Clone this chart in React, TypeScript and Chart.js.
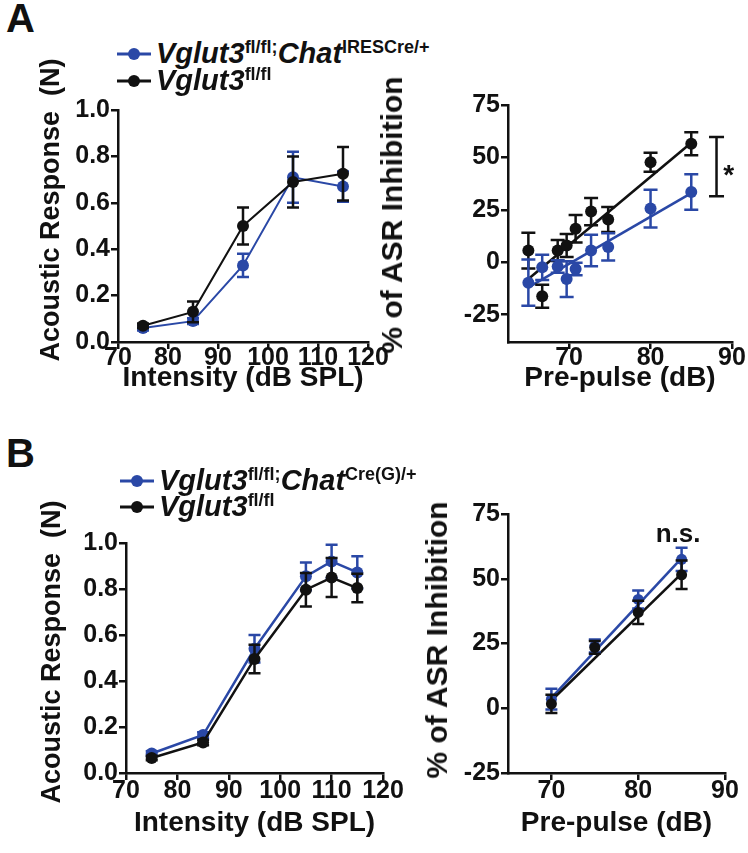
import React, { useEffect, useRef } from "react";
import { Chart, registerables } from "chart.js";

Chart.register(...registerables);

const FONT = "'Liberation Sans', Arial, Helvetica, sans-serif";
const BLUE = "#2a48a6";
const BLACK = "#111111";

// ---------- Panel A, left: acoustic response ----------
const aIntensity = [75, 85, 95, 105, 115];
const aCreResponse = [0.06, 0.09, 0.33, 0.71, 0.67];
const aCreResponseErr = [0.01, 0.012, 0.05, 0.11, 0.065];
const aCtrlResponse = [0.07, 0.13, 0.5, 0.69, 0.725];
const aCtrlResponseErr = [0.01, 0.045, 0.08, 0.11, 0.115];

// ---------- Panel A, right: % ASR inhibition ----------
const aPrepulse = [65, 66.7, 68.6, 69.7, 70.8, 72.7, 74.8, 80, 85];
const aCtrlInhib = [5.6, -16.2, 5.6, 8, 16, 24.2, 20.4, 47.7, 56.5];
const aCtrlInhibErr = [8.5, 5.5, 5, 5.5, 6.5, 6.5, 6, 4.5, 5.5];
const aCreInhib = [-9.7, -2.4, -2, -8, -3.2, 5.6, 7.3, 25.6, 33.5];
const aCreInhibErr = [11, 6, 3, 8.5, 3, 7.5, 6.5, 9, 8.5];
const aFitX = [65, 85];
const aCtrlFit = [-8, 57];
const aCreFit = [-12, 33];

// ---------- Panel B, left ----------
const bIntensity = [75, 85, 95, 105, 110, 115];
const bCreResponse = [0.085, 0.165, 0.54, 0.855, 0.92, 0.872];
const bCreResponseErr = [0.01, 0.012, 0.06, 0.06, 0.072, 0.07];
const bCtrlResponse = [0.065, 0.133, 0.496, 0.797, 0.85, 0.804];
const bCtrlResponseErr = [0.01, 0.012, 0.062, 0.073, 0.085, 0.062];

// ---------- Panel B, right ----------
const bPrepulse = [70, 75, 80, 85];
const bCreInhib = [3.5, 24, 42, 57.5];
const bCreInhibErr = [4, 2.5, 3.5, 4.5];
const bCtrlInhib = [1.7, 23.5, 37, 51.5];
const bCtrlInhibErr = [3.5, 2.5, 4.5, 5.5];
const bFitX = [70, 85];
const bCtrlFit = [3, 52];
const bCreFit = [4, 58];

// ---------- ticks ----------
const intensityTicks = [70, 80, 90, 100, 110, 120];
const responseTicks = [0, 0.2, 0.4, 0.6, 0.8, 1.0];
const prepulseTicks = [70, 80, 90];
const inhibTicks = [-25, 0, 25, 50, 75];

const pts = (xs: number[], ys: number[]) => xs.map((x, i) => ({ x, y: ys[i] }));

const errorBarPlugin = {
  id: "errorBars",
  beforeDatasetDraw(chart: any, args: any) {
    const ds = chart.data.datasets[args.index];
    const errs: number[] | undefined = ds.errors;
    if (!errs) return;
    const ys = chart.scales.y;
    const ctx = chart.ctx;
    const cap = ds.capHalf ?? 6;
    ctx.save();
    ctx.strokeStyle = ds.borderColor;
    ctx.lineWidth = 2.5;
    args.meta.data.forEach((el: any, j: number) => {
      const v = ds.data[j].y;
      const e = errs[j];
      const yt = ys.getPixelForValue(v + e);
      const yb = ys.getPixelForValue(v - e);
      const x = el.x;
      ctx.beginPath();
      ctx.moveTo(x, yt);
      ctx.lineTo(x, yb);
      ctx.moveTo(x - cap, yt);
      ctx.lineTo(x + cap, yt);
      ctx.moveTo(x - cap, yb);
      ctx.lineTo(x + cap, yb);
      ctx.stroke();
    });
    ctx.restore();
  },
};

const notesPlugin = {
  id: "notes",
  afterDatasetsDraw(chart: any, _args: any, opts: any) {
    const ctx = chart.ctx;
    const xs = chart.scales.x;
    const ys = chart.scales.y;
    ctx.save();
    (opts.brackets || []).forEach((b: any) => {
      const x = xs.getPixelForValue(b.x);
      const y1 = ys.getPixelForValue(b.y1);
      const y2 = ys.getPixelForValue(b.y2);
      ctx.strokeStyle = BLACK;
      ctx.lineWidth = 2.5;
      ctx.beginPath();
      ctx.moveTo(x, y1);
      ctx.lineTo(x, y2);
      ctx.moveTo(x - b.cap, y1);
      ctx.lineTo(x + b.cap, y1);
      ctx.moveTo(x - b.cap, y2);
      ctx.lineTo(x + b.cap, y2);
      ctx.stroke();
    });
    (opts.labels || []).forEach((l: any) => {
      ctx.fillStyle = BLACK;
      ctx.font = `bold ${l.size}px ${FONT}`;
      ctx.textAlign = "center";
      ctx.textBaseline = "alphabetic";
      ctx.fillText(l.text, xs.getPixelForValue(l.x), ys.getPixelForValue(l.y));
    });
    ctx.restore();
  },
};

function lineSet(data: any[], color: string, opts: any = {}) {
  return {
    data,
    borderColor: color,
    backgroundColor: color,
    pointBackgroundColor: color,
    pointBorderWidth: 0,
    pointRadius: 6,
    borderWidth: 2,
    tension: 0,
    showLine: true,
    ...opts,
  };
}

function axis(o: any) {
  const isY = o.position === "left";
  return {
    type: "linear",
    position: o.position,
    min: o.min,
    max: o.max,
    afterBuildTicks: (s: any) => {
      s.ticks = o.ticks.map((v: number) => ({ value: v }));
    },
    afterFit: (s: any) => {
      if (isY) s.width = o.size;
      else s.height = o.size;
    },
    ticks: {
      font: { family: FONT, size: 25, weight: "bold" },
      color: BLACK,
      padding: o.tickPad ?? 1,
      autoSkip: false,
      maxRotation: 0,
      minRotation: 0,
      callback: o.fmt || ((v: number) => String(v)),
    },
    grid: {
      display: true,
      drawOnChartArea: false,
      drawTicks: true,
      tickLength: 7,
      lineWidth: 2.5,
      color: BLACK,
      tickColor: BLACK,
    },
    border: { display: true, color: BLACK, width: 2.5 },
    title: isY
      ? { display: false }
      : {
          display: true,
          text: o.title,
          color: BLACK,
          font: { family: FONT, size: 28, weight: "bold" },
          padding: { top: 0, bottom: 2 },
        },
  };
}

function config(o: any) {
  return {
    type: "line",
    data: { datasets: o.datasets },
    options: {
      animation: false,
      responsive: false,
      layout: { padding: { left: 0, top: o.padTop, right: o.padRight, bottom: 0 } },
      plugins: {
        legend: { display: false },
        tooltip: { enabled: false },
        notes: o.notes || {},
      },
      scales: {
        x: axis({ position: "bottom", ...o.x }),
        y: axis({ position: "left", ...o.y }),
      },
    },
    plugins: [errorBarPlugin, notesPlugin],
  };
}

const fmt1 = (v: number) => v.toFixed(1);

const panels = [
  {
    key: "aLeft",
    left: 0,
    top: 86,
    width: 392,
    height: 311,
    cfg: config({
      padTop: 24,
      padRight: 24,
      datasets: [
        lineSet(pts(aIntensity, aCtrlResponse), BLACK, { errors: aCtrlResponseErr, order: 0 }),
        lineSet(pts(aIntensity, aCreResponse), BLUE, { errors: aCreResponseErr, order: 1 }),
      ],
      x: { min: 70, max: 120, ticks: intensityTicks, size: 55, tickPad: -6, title: "Intensity (dB SPL)" },
      y: { min: 0, max: 1, ticks: responseTicks, size: 118, fmt: fmt1 },
    }),
  },
  {
    key: "aRight",
    left: 373,
    top: 81,
    width: 375,
    height: 316,
    cfg: config({
      padTop: 24,
      padRight: 16,
      datasets: [
        lineSet(pts(aPrepulse, aCtrlInhib), BLACK, { errors: aCtrlInhibErr, showLine: false, capHalf: 7, order: 1 }),
        lineSet(pts(aPrepulse, aCreInhib), BLUE, { errors: aCreInhibErr, showLine: false, capHalf: 7, order: 0 }),
        lineSet(pts(aFitX, aCtrlFit), BLACK, { pointRadius: 0, borderWidth: 2.6, order: 3 }),
        lineSet(pts(aFitX, aCreFit), BLUE, { pointRadius: 0, borderWidth: 2.6, order: 2 }),
      ],
      x: { min: 62.5, max: 90, ticks: prepulseTicks, size: 55, tickPad: -6, title: "Pre-pulse (dB)" },
      y: { min: -38, max: 75, ticks: inhibTicks, size: 135 },
      notes: {
        brackets: [{ x: 88.1, y1: 31.5, y2: 59.8, cap: 7.5 }],
        labels: [{ x: 89.6, y: 37.5, text: "*", size: 28 }],
      },
    }),
  },
  {
    key: "bLeft",
    left: 0,
    top: 519,
    width: 407,
    height: 323,
    cfg: config({
      padTop: 24,
      padRight: 24,
      datasets: [
        lineSet(pts(bIntensity, bCtrlResponse), BLACK, { errors: bCtrlResponseErr, borderWidth: 2.5, order: 0 }),
        lineSet(pts(bIntensity, bCreResponse), BLUE, { errors: bCreResponseErr, borderWidth: 2.5, order: 1 }),
      ],
      x: { min: 70, max: 120, ticks: intensityTicks, size: 69, tickPad: -4, title: "Intensity (dB SPL)" },
      y: { min: 0, max: 1, ticks: responseTicks, size: 126, fmt: fmt1 },
    }),
  },
  {
    key: "bRight",
    left: 373,
    top: 490,
    width: 375,
    height: 352,
    cfg: config({
      padTop: 24,
      padRight: 23,
      datasets: [
        lineSet(pts(bPrepulse, bCtrlInhib), BLACK, { errors: bCtrlInhibErr, showLine: false, pointRadius: 5.5, order: 0 }),
        lineSet(pts(bPrepulse, bCreInhib), BLUE, { errors: bCreInhibErr, showLine: false, pointRadius: 5.5, order: 1 }),
        lineSet(pts(bFitX, bCtrlFit), BLACK, { pointRadius: 0, borderWidth: 2.6, order: 2 }),
        lineSet(pts(bFitX, bCreFit), BLUE, { pointRadius: 0, borderWidth: 2.6, order: 3 }),
      ],
      x: { min: 65, max: 90, ticks: prepulseTicks, size: 69, tickPad: -4, title: "Pre-pulse (dB)" },
      y: { min: -25, max: 75, ticks: inhibTicks, size: 135 },
      notes: {
        labels: [{ x: 84.6, y: 64.3, text: "n.s.", size: 26 }],
      },
    }),
  },
];

// rotated y-axis titles: [text, centre x, centre y, font size]
const yTitles: [string, number, number, number][] = [
  ["Acoustic Response  (N)", 50, 210, 27],
  ["% of ASR Inhibition", 392, 215, 30],
  ["Acoustic Response  (N)", 51, 652, 27],
  ["% of ASR Inhibition", 437, 640, 30],
];

function ChartCanvas({ p }: { p: any }) {
  const ref = useRef<HTMLCanvasElement>(null);
  useEffect(() => {
    const chart = new Chart(ref.current as HTMLCanvasElement, p.cfg as any);
    return () => chart.destroy();
  }, []);
  return (
    <canvas
      ref={ref}
      width={p.width}
      height={p.height}
      style={{ position: "absolute", left: p.left, top: p.top, width: p.width, height: p.height }}
    />
  );
}

function Marker({ color }: { color: string }) {
  return (
    <svg width={36} height={14} style={{ position: "absolute", left: 0, top: -7 }}>
      <line x1={0} y1={7} x2={34} y2={7} stroke={color} strokeWidth={3} />
      <circle cx={17} cy={7} r={6} fill={color} />
    </svg>
  );
}

const mainStyle: React.CSSProperties = {
  fontFamily: FONT,
  fontWeight: "bold",
  fontStyle: "italic",
  fontSize: 29,
};
const supStyle: React.CSSProperties = {
  fontFamily: FONT,
  fontWeight: "bold",
  fontStyle: "normal",
  fontSize: 18,
  position: "relative",
  top: -10,
};

function LegendRow({ x, cy, color, sup1, gene2, sup2 }: any) {
  return (
    <div style={{ position: "absolute", left: x, top: cy, height: 0 }}>
      <Marker color={color} />
      <div
        style={{
          position: "absolute",
          left: 39,
          top: -15,
          lineHeight: "29px",
          whiteSpace: "nowrap",
          color: BLACK,
        }}
      >
        <span style={mainStyle}>Vglut3</span>
        <span style={supStyle}>{sup1}</span>
        {gene2 ? <span style={mainStyle}>{gene2}</span> : null}
        {sup2 ? <span style={supStyle}>{sup2}</span> : null}
      </div>
    </div>
  );
}

export default function App() {
  return (
    <div
      style={{
        position: "absolute",
        left: 0,
        top: 0,
        width: 748,
        height: 853,
        background: "#ffffff",
        overflow: "hidden",
      }}
    >
      <div style={{ position: "absolute", left: 6, top: -2, font: `bold 40px ${FONT}`, lineHeight: "40px", color: BLACK }}>A</div>
      <div style={{ position: "absolute", left: 6, top: 433, font: `bold 40px ${FONT}`, lineHeight: "40px", color: BLACK }}>B</div>

      {panels.map((p) => (
        <ChartCanvas key={p.key} p={p} />
      ))}

      {yTitles.map(([text, cx, cy, size], i) => (
        <div
          key={i}
          style={{
            position: "absolute",
            left: cx,
            top: cy,
            transform: "translate(-50%, -50%) rotate(-90deg)",
            whiteSpace: "pre",
            font: `bold ${size}px ${FONT}`,
            lineHeight: `${size}px`,
            color: BLACK,
          }}
        >
          {text}
        </div>
      ))}

      <LegendRow x={117} cy={54} color={BLUE} sup1="fl/fl;" gene2="Chat" sup2="IRESCre/+" />
      <LegendRow x={117} cy={81} color={BLACK} sup1="fl/fl" />
      <LegendRow x={120} cy={481} color={BLUE} sup1="fl/fl;" gene2="Chat" sup2="Cre(G)/+" />
      <LegendRow x={120} cy={507} color={BLACK} sup1="fl/fl" />
    </div>
  );
}
